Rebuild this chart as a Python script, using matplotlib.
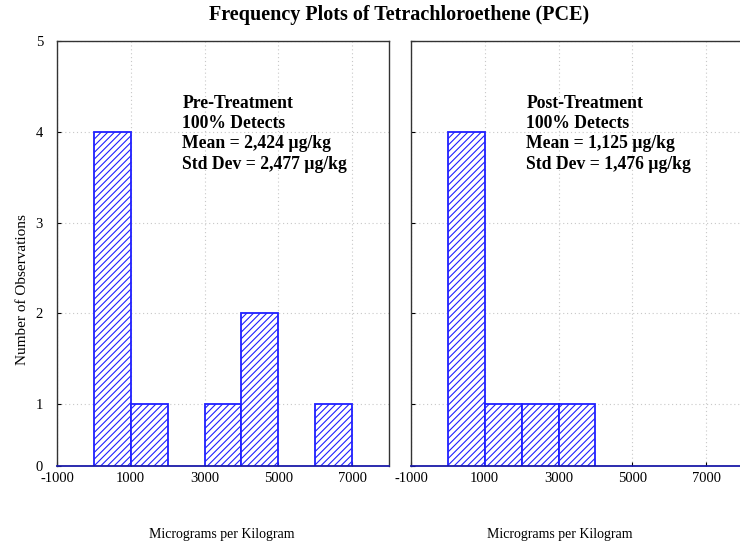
import matplotlib
matplotlib.use("Agg")
import matplotlib.pyplot as plt
import numpy as np

plt.rcParams['font.family'] = ['Liberation Serif', 'DejaVu Serif']
plt.rcParams['hatch.linewidth'] = 0.8

# Histogram bins (µg/kg) and counts per bin
bin_edges = [-1000, 0, 1000, 2000, 3000, 4000, 5000, 6000, 7000, 8000]
pre_counts = [0, 4, 1, 0, 1, 2, 0, 1, 0]
post_counts = [0, 4, 1, 1, 1, 0, 0, 0, 0]

x_ticks = [-1000, 1000, 3000, 5000, 7000]
y_ticks = [1, 2, 3, 4, 5]
y_floor = 0.317  # lower edge of the visible count axis, labelled "0"

pre_text = "Pre-Treatment\n100% Detects\nMean = 2,424 µg/kg\nStd Dev = 2,477 µg/kg"
post_text = "Post-Treatment\n100% Detects\nMean = 1,125 µg/kg\nStd Dev = 1,476 µg/kg"

W, H = 740, 543
fig = plt.figure(figsize=(W / 100, H / 100), dpi=100)

def px_axes(x0, x1, y0, y1):
    return fig.add_axes([x0 / W, 1 - y1 / H, (x1 - x0) / W, (y1 - y0) / H])

ax_pre = px_axes(57, 389, 41, 466)
ax_post = px_axes(411, 743, 41, 466)

blue = '#1f1fff'

def draw_panel(ax, counts, label, tx, xlab_pos):
    edges = np.array(bin_edges, dtype=float)
    widths = np.diff(edges)
    ax.bar(edges[:-1], counts, width=widths, align='edge',
           facecolor='white', edgecolor=blue, hatch='/////', linewidth=1.3,
           zorder=3)
    ax.set_xlim(bin_edges[0], bin_edges[-1])
    ax.set_ylim(y_floor, 5)
    ax.set_xticks(x_ticks)
    ax.set_xticklabels([str(v) for v in x_ticks], fontsize=10.5)
    ax.set_yticks([y_floor] + y_ticks)
    ax.grid(True, linestyle=(0, (1, 2.5)), color='#c8c8c8', linewidth=0.8, zorder=0)
    ax.tick_params(direction='in', length=3, width=0.8, pad=4)
    for s in ax.spines.values():
        s.set_color('#333333')
        s.set_linewidth(1.0)
    ax.spines['bottom'].set_color('#1a1aa8')
    ax.spines['bottom'].set_linewidth(1.3)
    ax.spines['bottom'].set_zorder(4)
    ax.set_xlabel("Micrograms per Kilogram", fontsize=10)
    ax.xaxis.set_label_coords(xlab_pos, -0.145)
    ax.text(tx, 4.41, label, fontsize=12.7, fontweight='bold',
            va='top', ha='left', linespacing=1.26, zorder=5)

draw_panel(ax_pre, pre_counts, pre_text, 2400, 0.497)
draw_panel(ax_post, post_counts, post_text, 2130, 0.449)

ax_pre.set_yticklabels(['0'] + [str(v) for v in y_ticks], fontsize=10.5)
ax_pre.tick_params(axis='y', pad=10)
ax_post.tick_params(axis='y', labelleft=False)
ax_pre.set_ylabel("Number of Observations", fontsize=11)
ax_pre.yaxis.set_label_coords(-0.084, 0.414)

fig.text(399 / W, 1 - 15 / H, "Frequency Plots of Tetrachloroethene (PCE)",
         ha='center', va='center', fontsize=14.5, fontweight='bold')

fig.savefig("out.png", dpi=100)
